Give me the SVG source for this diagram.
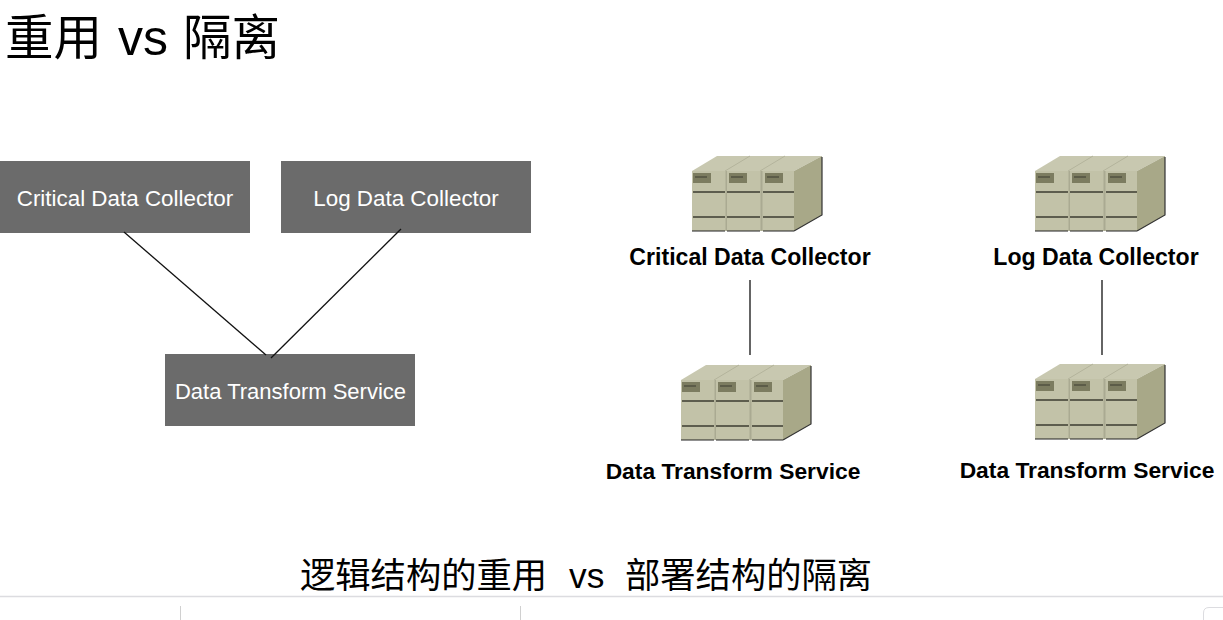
<svg xmlns="http://www.w3.org/2000/svg" width="1223" height="620" viewBox="0 0 1223 620">
<style>
.t{font-family:"Liberation Sans","Noto Sans CJK SC",sans-serif;fill:#000}
.box{fill:#6b6b6b}
.bl{font-family:"Liberation Sans",Arial,sans-serif;font-size:22.4px;fill:#fff;text-anchor:middle}
.sl{font-family:"Liberation Sans",Arial,sans-serif;font-size:23.1px;font-weight:bold;fill:#000;text-anchor:middle}
.dt{font-size:22px}
.ds{font-size:22.8px}
.c{stroke:#111;stroke-width:1.3;fill:none}
.g{stroke:#dcdce0;fill:none}
</style>
<defs>
<g id="server">
<path d="M0 15 L25 0 H130 L102 15 Z" fill="#c8c8b0"/>
<path d="M102 15 L130 0 V59 L102 75 Z" fill="#a8a888"/>
<path d="M130 1 V59 L102 75" fill="none" stroke="#333" stroke-width="1.2"/>
<path d="M33 15 L58 0 M68 15 L93 0" stroke="#b4b49c" stroke-width="1" fill="none"/>
<rect x="0" y="15" width="102" height="60" fill="#aaaa92"/>
<rect x="0" y="15" width="33.500" height="60" fill="#c2c2a8"/>
<rect x="35" y="15" width="33.500" height="60" fill="#c2c2a8"/>
<rect x="70.500" y="15" width="31.500" height="60" fill="#c2c2a8"/>
<path d="M0 75 H33 M35 75 H68 M71 75 H102" stroke="#222" stroke-width="1.2"/>
<path d="M1 36 H33 M35 36 H68 M71 36 H102 M1 61 H33 M35 61 H68 M71 61 H102" stroke="#3c3c30" stroke-width="1.3"/>
<path d="M1 17 H19 V27 H1 Z M37 17 H55 V27 H37 Z M73 17 H91 V27 H73 Z" fill="#7c7c60"/>
<path d="M3 21 H15 M39 21 H51 M75 21 H87" stroke="#3c3c30" stroke-width="1.2"/>
</g>
</defs>
<text id="title" class="t" y="55" font-size="48.500"><tspan x="5">重用</tspan><tspan x="118" font-size="50">vs</tspan><tspan x="183">隔离</tspan></text>
<g id="logical-critical"><rect class="box" x="0" y="161" width="250" height="72"/><text class="bl" x="125" y="206">Critical Data Collector</text></g>
<g id="logical-log"><rect class="box" x="281" y="161" width="250" height="72"/><text class="bl" x="406" y="206">Log Data Collector</text></g>
<g id="logical-transform"><rect class="box" x="165" y="354" width="250" height="72"/><text class="bl dt" x="290.500" y="399">Data Transform Service</text></g>
<g id="deploy-critical"><use href="#server" x="692" y="156"/><text class="sl" x="750" y="265">Critical Data Collector</text></g>
<g id="deploy-log"><use href="#server" x="1035" y="156"/><text class="sl" x="1096" y="265">Log Data Collector</text></g>
<g id="deploy-transform-1"><use href="#server" x="681" y="365"/><text class="sl ds" x="733" y="479">Data Transform Service</text></g>
<g id="deploy-transform-2"><use href="#server" x="1035" y="364"/><text class="sl ds" x="1087" y="478">Data Transform Service</text></g>
<g id="connectors">
<path class="c" d="M124 232 L266 355"/>
<path class="c" d="M401 229 L271 358"/>
<path class="c" d="M750 280 V355"/>
<path class="c" d="M1102 280 V355"/>
</g>
<text id="caption" class="t" y="588" font-size="35.300"><tspan x="300">逻辑结构的重用</tspan><tspan x="569">vs</tspan><tspan x="625">部署结构的隔离</tspan></text>
<g id="page-edge">
<path d="M0 596.500 H1223" stroke="#dcdce0" stroke-width="1.500" fill="none"/>
<path d="M180.500 606 V620 M520.500 606 V620" stroke="#d0d0d0" fill="none"/>
<path class="g" d="M1203.500 620 V613 Q1203.500 607.500 1209 607.500 H1223"/>
</g>
</svg>
